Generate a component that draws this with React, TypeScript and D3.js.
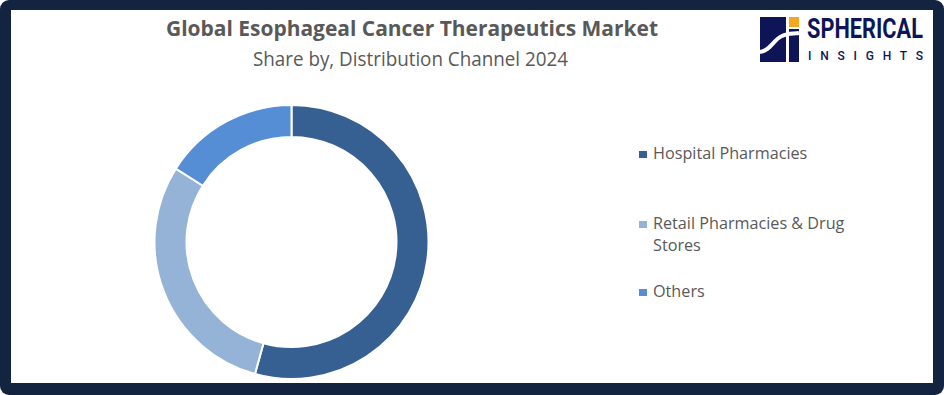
import React from "react";
import * as d3 from "d3";

const categories = ["Hospital Pharmacies", "Retail Pharmacies & Drug Stores", "Others"];
const shares = [54.3, 29.7, 16.0];
const colors = ["#376092", "#95b3d7", "#558ed5"];
const legendLines = [["Hospital Pharmacies"], ["Retail Pharmacies & Drug", "Stores"], ["Others"]];
const title = "Global Esophageal Cancer Therapeutics Market";
const subtitle = "Share by, Distribution Channel 2024";

export default function App() {
  const W = 944, H = 395;
  const cx = 291.5, cy = 242;
  const pie = d3.pie<number>().sort(null).value((d) => d).startAngle(0).endAngle(2 * Math.PI);
  const arcs = pie(shares);
  const arc = d3.arc<d3.PieArcDatum<number>>().innerRadius(105).outerRadius(137);
  const legendY = [159, 229, 297];
  const navy = "#0e1557";
  return (
    <svg width={W} height={H} style={{ position: "absolute", left: 0, top: 0, display: "block" }}>
      <rect x={0} y={0} width={W} height={H} rx={9} fill="#12243f" />
      <rect x={11} y={10} width={922} height={373} fill="#ffffff" />
      <text x={412} y={36} textAnchor="middle" fontFamily="'Open Sans', sans-serif" fontWeight={700} fontSize={21} fill="#595959" textLength={492} lengthAdjust="spacingAndGlyphs">{title}</text>
      <text x={410.5} y={65.5} textAnchor="middle" fontFamily="'Open Sans', sans-serif" fontSize={20.5} fill="#595959" textLength={315} lengthAdjust="spacingAndGlyphs">{subtitle}</text>
      <g transform={`translate(${cx},${cy})`}>
        {arcs.map((a, i) => (
          <path key={i} d={arc(a) || ""} fill={colors[i]} stroke="#ffffff" strokeWidth={2} />
        ))}
      </g>
      {categories.map((c, i) => (
        <g key={c}>
          <rect x={639} y={legendY[i] - 8} width={8} height={7} fill={colors[i]} />
          {legendLines[i].map((ln, j) => (
            <text key={j} x={653} y={legendY[i] + j * 22} fontFamily="'Open Sans', sans-serif" fontSize={16.2} fill="#595959">{ln}</text>
          ))}
        </g>
      ))}
      {/* logo */}
      <g>
        <rect x={760} y={17} width={26} height={45} fill={navy} />
        <rect x={789} y={17} width={10} height={10} fill="#f5a623" />
        <rect x={789} y={29} width={10} height={33} fill={navy} />
        <path d="M760,52 C770,51 773,40 782,36 C788,33 794,34 799,33" fill="none" stroke="#ffffff" strokeWidth={4} />
        <text transform="translate(807,38) scale(1,1.3)" x={0} y={0} fontFamily="Roboto, sans-serif" fontWeight={700} fontSize={21.5} fill={navy} textLength={116} lengthAdjust="spacingAndGlyphs">SPHERICAL</text>
        <text x={808} y={60} fontFamily="Roboto, sans-serif" fontWeight={500} fontSize={12} fill={navy} textLength={115} lengthAdjust="spacing">INSIGHTS</text>
      </g>
    </svg>
  );
}
